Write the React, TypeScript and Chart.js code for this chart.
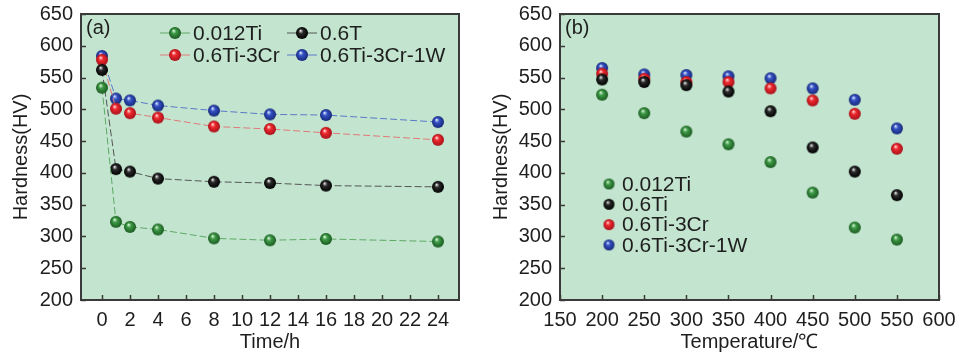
import React, { useEffect, useRef } from "react";
import { Chart, registerables } from "chart.js";

Chart.register(...registerables);

// ---------- data ----------
const legendNamesA = ["0.012Ti", "0.6T", "0.6Ti-3Cr", "0.6Ti-3Cr-1W"];
const legendNamesB = ["0.012Ti", "0.6Ti", "0.6Ti-3Cr", "0.6Ti-3Cr-1W"];

const timeH = [0, 1, 2, 4, 8, 12, 16, 24];
const timeTicks = [0, 2, 4, 6, 8, 10, 12, 14, 16, 18, 20, 22, 24];
const hv012TiTime = [534, 323, 315, 311, 297, 294, 296, 292];
const hv06TiTime = [562, 406, 402, 391, 386, 384, 380, 378];
const hv06Ti3CrTime = [578, 501, 494, 487, 473, 469, 463, 452];
const hv06Ti3Cr1WTime = [584, 517, 514, 506, 498, 492, 491, 480];

const tempC = [200, 250, 300, 350, 400, 450, 500, 550];
const tempTicks = [150, 200, 250, 300, 350, 400, 450, 500, 550, 600];
const hv012TiTemp = [523, 494, 465, 445, 417, 369, 314, 295];
const hv06TiTemp = [547, 543, 538, 528, 497, 440, 402, 365];
const hv06Ti3CrTemp = [556, 548, 543, 543, 533, 514, 493, 438];
const hv06Ti3Cr1WTemp = [565, 555, 554, 552, 549, 533, 515, 470];

const hvTicks = [200, 250, 300, 350, 400, 450, 500, 550, 600, 650];

// ---------- styles ----------
const FONT = "'Liberation Sans', Arial, sans-serif";
const TEXT = "#1e1e1e";
const PLOT_BG = "#c3e5cf";
const FRAME = "#3a3a3a";
const sphereColors = [
  { hi: "#d8f5d8", mid: "#3d9a45", dark: "#1b5a22" },
  { hi: "#e6e6e6", mid: "#2a2a2a", dark: "#000000" },
  { hi: "#ffd9d9", mid: "#ee2a2e", dark: "#a8101a" },
  { hi: "#dde6ff", mid: "#3452c4", dark: "#17287a" },
];
const lineColors = ["#5fa866", "#555555", "#e07a78", "#5b78c8"];

function makeSphere(c: { hi: string; mid: string; dark: string }, d: number) {
  const cv = document.createElement("canvas");
  const s = Math.ceil(d) + 2;
  cv.width = s;
  cv.height = s;
  const g = cv.getContext("2d")!;
  const r = d / 2;
  const cx = s / 2;
  const cy = s / 2;
  const grad = g.createRadialGradient(cx - r * 0.25, cy - r * 0.4, r * 0.05, cx, cy, r);
  grad.addColorStop(0, c.hi);
  grad.addColorStop(0.35, c.mid);
  grad.addColorStop(1, c.dark);
  g.fillStyle = grad;
  g.beginPath();
  g.arc(cx, cy, r, 0, Math.PI * 2);
  g.fill();
  return cv;
}

function pairs(xs: number[], ys: number[]) {
  return xs.map((x, i) => ({ x, y: ys[i] }));
}

type PanelCfg = {
  label: string;
  xTitle: string;
  xMin: number;
  xMax: number;
  xTicks: number[];
  xs: number[];
  series: number[][];
  names: string[];
  showLines: boolean;
  legendMode: "grid" | "list";
};

function buildChart(canvas: HTMLCanvasElement, cfg: PanelCfg) {
  const spheres = sphereColors.map((c) => makeSphere(c, 12));
  const smallSpheres = sphereColors.map((c) => makeSphere(c, 11));

  const decor = {
    id: "decor",
    beforeDraw(chart: any) {
      const { ctx, chartArea: a } = chart;
      ctx.save();
      ctx.fillStyle = PLOT_BG;
      ctx.fillRect(a.left, a.top, a.right - a.left, a.bottom - a.top);
      ctx.restore();
    },
    beforeDatasetsDraw(chart: any) {
      const { ctx, chartArea: a, scales } = chart;
      ctx.save();
      ctx.strokeStyle = FRAME;
      ctx.lineWidth = 1.5;
      ctx.beginPath();
      for (const v of cfg.xTicks) {
        const px = Math.round(scales.x.getPixelForValue(v)) + 0.5;
        ctx.moveTo(px, a.bottom);
        ctx.lineTo(px, a.bottom - 5);
      }
      for (const v of hvTicks) {
        const py = Math.round(scales.y.getPixelForValue(v)) + 0.5;
        ctx.moveTo(a.left, py);
        ctx.lineTo(a.left + 5, py);
      }
      ctx.stroke();
      ctx.lineWidth = 2;
      ctx.strokeRect(a.left, a.top, a.right - a.left, a.bottom - a.top);
      ctx.restore();
    },
    afterDatasetsDraw(chart: any) {
      const { ctx, chartArea: a } = chart;
      ctx.save();
      ctx.fillStyle = TEXT;
      ctx.font = `20px ${FONT}`;
      ctx.textBaseline = "middle";
      ctx.textAlign = "left";
      ctx.fillText(cfg.label, a.left + 5, a.top + 14);
      ctx.font = `21px ${FONT}`;
      if (cfg.legendMode === "grid") {
        const cols = [a.left + 79, a.left + 206];
        const rows = [a.top + 19, a.top + 41];
        cfg.names.forEach((name, i) => {
          const x0 = cols[i % 2];
          const y0 = rows[Math.floor(i / 2)];
          ctx.strokeStyle = lineColors[i];
          ctx.lineWidth = 1;
          ctx.beginPath();
          ctx.moveTo(x0, y0);
          ctx.lineTo(x0 + 30, y0);
          ctx.stroke();
          const sp = spheres[i];
          ctx.drawImage(sp, x0 + 15 - sp.width / 2, y0 - sp.height / 2);
          ctx.fillStyle = TEXT;
          ctx.fillText(name, x0 + 33, y0 + 1);
        });
      } else {
        const xm = a.left + 49;
        const y0 = a.top + 170;
        cfg.names.forEach((name, i) => {
          const y = y0 + i * 20.3;
          const sp = smallSpheres[i];
          ctx.drawImage(sp, xm - sp.width / 2, y - sp.height / 2);
          ctx.fillStyle = TEXT;
          ctx.fillText(name, xm + 13, y + 1);
        });
      }
      ctx.restore();
    },
  };

  const datasets = cfg.series.map((vals, i) => ({
    label: cfg.names[i],
    data: pairs(cfg.xs, vals),
    showLine: cfg.showLines,
    borderColor: lineColors[i],
    borderWidth: 1,
    borderDash: [7, 3],
    pointStyle: spheres[i] as any,
    pointRadius: 6,
    pointHoverRadius: 6,
    backgroundColor: lineColors[i],
    fill: false,
    tension: 0,
  }));

  return new Chart(canvas, {
    type: "scatter",
    data: { datasets },
    options: {
      responsive: false,
      animation: false,
      devicePixelRatio: 1,
      events: [],
      layout: { padding: { left: 0, right: 21, top: 14, bottom: 0 } },
      plugins: { legend: { display: false }, tooltip: { enabled: false } },
      scales: {
        x: {
          type: "linear",
          min: cfg.xMin,
          max: cfg.xMax,
          afterBuildTicks: (s: any) => {
            s.ticks = cfg.xTicks.map((v) => ({ value: v }));
          },
          afterFit: (s: any) => {
            s.height = 55;
            s.paddingLeft = 0;
            s.paddingRight = 0;
          },
          grid: { display: false, drawTicks: false },
          border: { display: false },
          ticks: {
            autoSkip: false,
            maxRotation: 0,
            padding: 8,
            color: TEXT,
            font: { family: FONT, size: 20 },
          },
          title: {
            display: true,
            text: cfg.xTitle,
            color: TEXT,
            font: { family: FONT, size: 20 },
            padding: { top: 0, bottom: 1 },
          },
        },
        y: {
          type: "linear",
          min: 200,
          max: 650,
          afterBuildTicks: (s: any) => {
            s.ticks = hvTicks.map((v) => ({ value: v }));
          },
          afterFit: (s: any) => {
            s.width = cfg.label === "(a)" ? 81 : 80;
            s.paddingTop = 0;
            s.paddingBottom = 0;
          },
          grid: { display: false, drawTicks: false },
          border: { display: false },
          ticks: {
            autoSkip: false,
            padding: 8,
            color: TEXT,
            font: { family: FONT, size: 20 },
          },
          title: {
            display: true,
            text: "Hardness(HV)",
            color: TEXT,
            font: { family: FONT, size: 20 },
            padding: { top: 9, bottom: 0 },
          },
        },
      },
    } as any,
    plugins: [decor],
  });
}

function Panel({ cfg }: { cfg: PanelCfg }) {
  const ref = useRef<HTMLCanvasElement | null>(null);
  useEffect(() => {
    if (!ref.current) return;
    const chart = buildChart(ref.current, cfg);
    return () => chart.destroy();
  }, [cfg]);
  return <canvas ref={ref} width={480} height={355} style={{ display: "block", width: 480, height: 355 }} />;
}

const panelA: PanelCfg = {
  label: "(a)",
  xTitle: "Time/h",
  xMin: -1.5,
  xMax: 25.5,
  xTicks: timeTicks,
  xs: timeH,
  series: [hv012TiTime, hv06TiTime, hv06Ti3CrTime, hv06Ti3Cr1WTime],
  names: legendNamesA,
  showLines: true,
  legendMode: "grid",
};

const panelB: PanelCfg = {
  label: "(b)",
  xTitle: "Temperature/℃",
  xMin: 150,
  xMax: 600,
  xTicks: tempTicks,
  xs: tempC,
  series: [hv012TiTemp, hv06TiTemp, hv06Ti3CrTemp, hv06Ti3Cr1WTemp],
  names: legendNamesB,
  showLines: false,
  legendMode: "list",
};

export default function App() {
  return (
    <div
      style={{
        position: "fixed",
        left: 0,
        top: 0,
        width: 960,
        height: 355,
        background: "#ffffff",
        display: "flex",
        flexDirection: "row",
      }}
    >
      <Panel cfg={panelA} />
      <Panel cfg={panelB} />
    </div>
  );
}
